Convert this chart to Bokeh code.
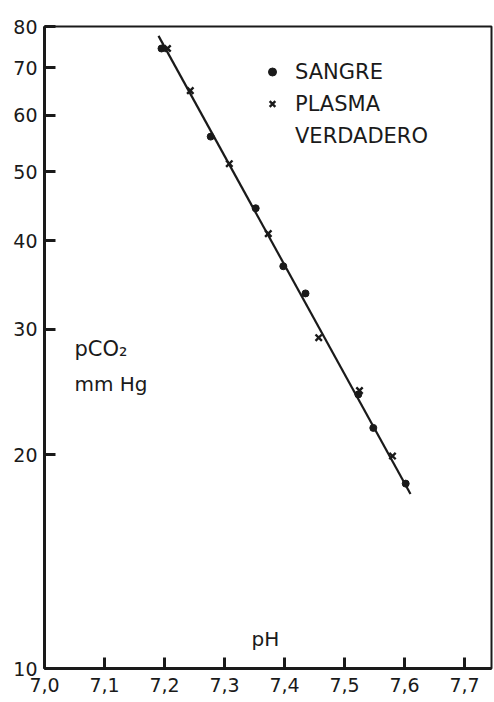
from bokeh.plotting import figure
from bokeh.models import (FixedTicker, CustomJSTickFormatter, Legend, LegendItem, Label)
from bokeh.embed import file_html
from bokeh.resources import INLINE

# Data
sangre_ph = [7.195, 7.277, 7.352, 7.398, 7.435, 7.523, 7.548, 7.602]
sangre_pco2 = [74.5, 56.0, 44.4, 36.8, 33.7, 24.3, 21.8, 18.2]
plasma_ph = [7.205, 7.243, 7.308, 7.373, 7.457, 7.525, 7.580]
plasma_pco2 = [74.5, 65.0, 51.3, 40.9, 29.2, 24.6, 19.9]
fit_ph = [7.19, 7.61]
fit_pco2 = [77.6, 17.6]

x_ticks = [7.0, 7.1, 7.2, 7.3, 7.4, 7.5, 7.6, 7.7]
y_ticks = [10, 20, 30, 40, 50, 60, 70, 80]

FONT = "DejaVu Sans"
INK = "#1a1a1a"

p = figure(width=494, height=702, output_backend="svg", toolbar_location=None,
           y_axis_type="log", x_range=(7.0, 7.745), y_range=(10, 80),
           min_border_left=44, min_border_right=3, min_border_top=26, min_border_bottom=34)
p.background_fill_color = "white"
p.border_fill_color = "white"
p.grid.visible = False
p.outline_line_color = INK
p.outline_line_width = 2

for ax in (p.xaxis[0], p.yaxis[0]):
    ax.axis_line_width = 3
    ax.axis_line_color = INK
    ax.major_tick_in = 11
    ax.major_tick_out = 0
    ax.major_tick_line_width = 3
    ax.major_tick_line_color = INK
    ax.minor_tick_line_color = None
    ax.major_label_text_font = FONT
    ax.major_label_text_font_size = "19px"
    ax.major_label_text_color = INK

p.xaxis.ticker = FixedTicker(ticks=x_ticks)
p.xaxis.formatter = CustomJSTickFormatter(code="return tick.toFixed(1).replace('.', ',');")
p.xaxis.major_label_standoff = 9
p.yaxis.ticker = FixedTicker(ticks=y_ticks)
p.yaxis.formatter = CustomJSTickFormatter(code="return Math.round(tick).toString();")
p.yaxis.major_label_standoff = 7

p.line(fit_ph, fit_pco2, line_color=INK, line_width=2.2)
r_s = p.scatter(sangre_ph, sangre_pco2, marker="circle", size=7,
                fill_color=INK, line_color=INK)
r_p = p.scatter(plasma_ph, plasma_pco2, marker="x", size=9,
                line_color=INK, line_width=2.4)
r_blank = p.scatter(x=[], y=[], marker="circle", size=0,
                    fill_alpha=0, line_alpha=0)

legend = Legend(items=[LegendItem(label="SANGRE", renderers=[r_s]),
                       LegendItem(label="PLASMA", renderers=[r_p]),
                       LegendItem(label="VERDADERO", renderers=[r_blank])],
                location=(218, 518))
legend.label_text_font = FONT
legend.label_text_font_size = "21px"
legend.label_text_color = INK
legend.border_line_color = None
legend.background_fill_color = None
legend.glyph_width = 20
legend.glyph_height = 29
legend.label_height = 29
legend.spacing = 3
legend.padding = 0
legend.margin = 0
legend.label_standoff = 13
p.add_layout(legend)

p.add_layout(Label(x=7.05, y=27.1, text="pCO₂", text_font=FONT,
                   text_font_size="21px", text_color=INK))
p.add_layout(Label(x=7.05, y=24.2, text="mm Hg", text_font=FONT,
                   text_font_size="20px", text_color=INK))
p.add_layout(Label(x=7.345, y=10.6, text="pH", text_font=FONT,
                   text_font_size="20px", text_color=INK))

open("out.html", "w").write(file_html(p, INLINE))
